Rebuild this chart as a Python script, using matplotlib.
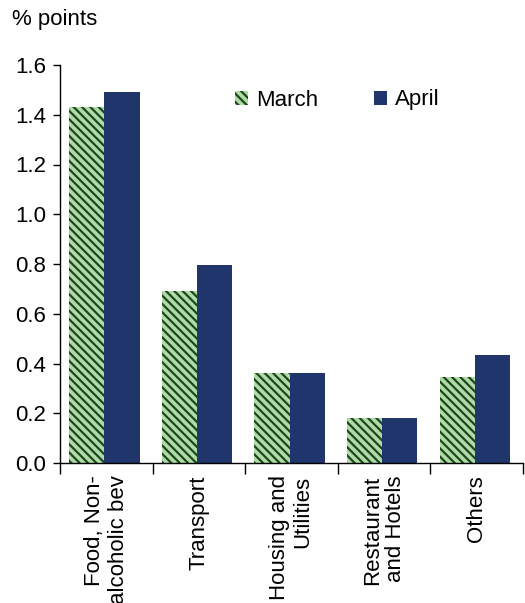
import matplotlib
matplotlib.use("Agg")
import matplotlib.pyplot as plt
import numpy as np

plt.rcParams['font.family'] = ['Liberation Sans', 'DejaVu Sans']
plt.rcParams['hatch.linewidth'] = 1.6
plt.rcParams['hatch.color'] = '#1d471d'

categories = ["Food, Non-\nalcoholic bev", "Transport", "Housing and\nUtilities",
              "Restaurant\nand Hotels", "Others"]
march = [1.43, 0.69, 0.36, 0.18, 0.345]
april = [1.49, 0.795, 0.36, 0.18, 0.435]
yticks = [0.0, 0.2, 0.4, 0.6, 0.8, 1.0, 1.2, 1.4, 1.6]

FS = 16

fig = plt.figure(figsize=(5.25, 6.03), dpi=100)
ax = fig.add_axes([60/525, 1-463/603, 463/525, 398/603])

x = np.arange(len(categories))
w = 0.38
b1 = ax.bar(x - w/2 - 0.02, march, w, color='#b0dba6', hatch='\\\\\\\\', edgecolor='#1d471d',
            linewidth=0, label='March')
b2 = ax.bar(x + w/2 - 0.02, april, w, color='#1f356b', linewidth=0, label='April')

ax.set_xlim(-0.5, len(categories) - 0.5)
ax.set_ylim(0, 1.6)
ax.set_yticks(yticks)
ax.set_yticklabels([f"{v:.1f}" for v in yticks], fontsize=FS)
ax.tick_params(axis='y', direction='out', length=5, width=1, pad=5)

ax.set_xticks(x)
ax.set_xticklabels(categories, rotation=90, fontsize=FS, va='top', ha='center',
                   multialignment='right', linespacing=1.15)
ax.set_xticks(np.arange(len(categories) + 1) - 0.5, minor=True)
ax.tick_params(axis='x', which='major', length=0, pad=9)
ax.tick_params(axis='x', which='minor', direction='out', length=8, width=1)

for s in ['top', 'right']:
    ax.spines[s].set_visible(False)
for s in ['left', 'bottom']:
    ax.spines[s].set_linewidth(1)

fig.text(12/525, 1-20/603, "% points", fontsize=FS, va='center', ha='left')

leg = ax.legend(loc='center left', bbox_to_anchor=(215/525, 1-100/603),
                bbox_transform=fig.transFigure, ncol=2, frameon=False, fontsize=FS,
                handlelength=0.6, handleheight=0.6, handletextpad=0.35,
                columnspacing=2.5)

fig.savefig("out.png", dpi=100)
